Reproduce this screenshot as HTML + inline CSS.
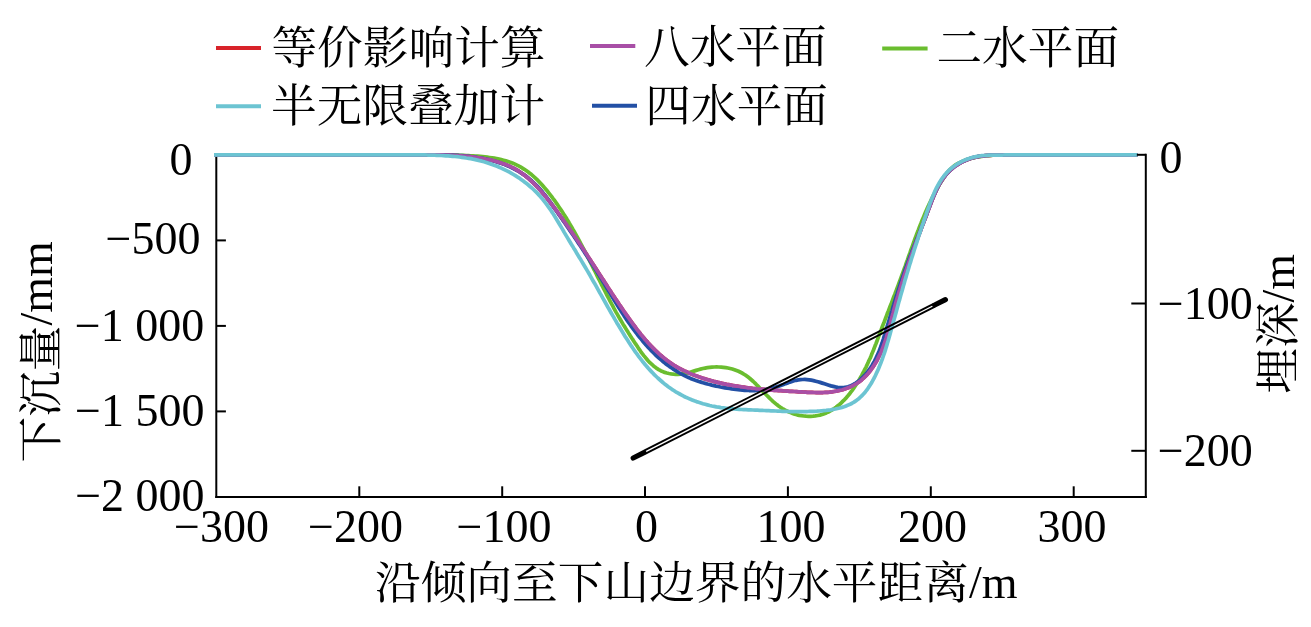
<!DOCTYPE html>
<html lang="zh"><head><meta charset="utf-8"><title>chart</title>
<style>
html,body{margin:0;padding:0;background:#fff;}
svg{display:block;}
.lat{font-family:"Liberation Serif","Noto Serif CJK SC",serif;font-size:46px;fill:#000;}
.cjk{font-family:"Liberation Serif","Noto Serif CJK SC",serif;font-size:45.7px;fill:#000;font-weight:400;}
.ax line{stroke:#000;stroke-width:2.0;}
.cv path{fill:none;stroke-width:3.75;stroke-linejoin:round;stroke-linecap:butt;}
</style></head><body>
<svg width="1311" height="627" viewBox="0 0 1311 627">
<rect width="1311" height="627" fill="#fff"/>
<!-- legend -->
<g stroke-width="4" fill="none">
<line x1="216" y1="48" x2="261" y2="48" stroke="#d8232a"/>
<line x1="590" y1="46" x2="635.3" y2="46" stroke="#a84fa6"/>
<line x1="882.2" y1="48.5" x2="927.6" y2="48.5" stroke="#6abd2f"/>
<line x1="216" y1="106.3" x2="261" y2="106.3" stroke="#6cc4d2"/>
<line x1="592" y1="105.8" x2="637" y2="105.8" stroke="#2350a5"/>
</g>
<g class="cjk">
<text x="271.4" y="63.5">等价影响计算</text>
<text x="644" y="63.3">八水平面</text>
<text x="936.4" y="63.5">二水平面</text>
<text x="271" y="121.6">半无限叠加计</text>
<text x="645.3" y="122">四水平面</text>
</g>
<!-- left/bottom axes -->
<g class="ax">
<line x1="216.3" y1="154" x2="216.3" y2="497.9"/>
<line x1="215.3" y1="496.9" x2="1146.8" y2="496.9"/>
<line x1="359.3" y1="496.9" x2="359.3" y2="486.3"/>
<line x1="502.2" y1="496.9" x2="502.2" y2="486.3"/>
<line x1="645.0" y1="496.9" x2="645.0" y2="486.3"/>
<line x1="787.9" y1="496.9" x2="787.9" y2="486.3"/>
<line x1="930.8" y1="496.9" x2="930.8" y2="486.3"/>
<line x1="1073.7" y1="496.9" x2="1073.7" y2="486.3"/>
<line x1="216.3" y1="240.4" x2="225.9" y2="240.4"/>
<line x1="216.3" y1="325.9" x2="225.9" y2="325.9"/>
<line x1="216.3" y1="411.4" x2="225.9" y2="411.4"/>
</g>
<!-- curves -->
<g class="cv">
<path stroke="#d8232a" stroke-width="2.2" d="M214,154.90 L400.0,154.90 L402.3,154.9 L404.6,154.9 L406.9,154.9 L409.2,154.9 L411.4,154.9 L413.6,154.9 L415.9,154.9 L418.1,154.9 L420.3,154.9 L422.4,154.9 L424.6,154.9 L426.8,154.9 L428.9,154.9 L431.1,154.9 L433.2,154.9 L435.4,154.9 L437.5,154.9 L439.7,154.9 L441.8,154.9 L444.0,155.0 L446.1,155.0 L448.3,155.1 L450.4,155.2 L452.6,155.3 L454.7,155.4 L456.9,155.5 L459.1,155.7 L461.3,155.8 L463.5,156.0 L465.7,156.2 L467.9,156.4 L470.2,156.6 L472.4,156.9 L474.7,157.2 L476.9,157.5 L479.2,157.8 L481.4,158.1 L483.6,158.5 L485.9,159.0 L488.1,159.4 L490.3,159.9 L492.5,160.4 L494.7,161.0 L496.8,161.6 L499.0,162.2 L501.1,162.9 L503.2,163.7 L505.3,164.4 L507.3,165.3 L509.4,166.1 L511.3,167.1 L513.3,168.0 L515.2,169.1 L517.1,170.2 L518.9,171.3 L520.7,172.5 L522.5,173.7 L524.2,175.0 L525.9,176.3 L527.6,177.7 L529.2,179.1 L530.8,180.6 L532.4,182.0 L534.0,183.6 L535.5,185.1 L537.0,186.7 L538.5,188.3 L540.0,189.9 L541.4,191.6 L542.8,193.3 L544.3,195.0 L545.7,196.7 L547.0,198.4 L548.4,200.1 L549.8,201.9 L551.1,203.7 L552.5,205.4 L553.8,207.2 L555.2,209.0 L556.5,210.7 L557.8,212.5 L559.1,214.3 L560.4,216.1 L561.7,217.9 L563.0,219.7 L564.3,221.5 L565.6,223.3 L566.8,225.1 L568.1,226.9 L569.4,228.7 L570.6,230.5 L571.9,232.4 L573.1,234.2 L574.4,236.0 L575.6,237.8 L576.9,239.7 L578.1,241.5 L579.3,243.3 L580.5,245.1 L581.8,247.0 L583.0,248.8 L584.2,250.7 L585.4,252.5 L586.6,254.3 L587.8,256.2 L589.0,258.0 L590.2,259.8 L591.4,261.7 L592.6,263.5 L593.8,265.4 L595.0,267.2 L596.2,269.1 L597.3,270.9 L598.5,272.7 L599.7,274.6 L600.9,276.4 L602.1,278.3 L603.3,280.1 L604.5,281.9 L605.7,283.8 L606.8,285.6 L608.0,287.5 L609.2,289.3 L610.4,291.1 L611.6,293.0 L612.8,294.8 L614.0,296.6 L615.3,298.5 L616.5,300.3 L617.7,302.1 L618.9,304.0 L620.2,305.8 L621.4,307.6 L622.7,309.5 L623.9,311.3 L625.2,313.1 L626.4,314.9 L627.7,316.7 L629.0,318.5 L630.3,320.4 L631.6,322.2 L632.9,324.0 L634.2,325.7 L635.6,327.5 L636.9,329.3 L638.3,331.1 L639.7,332.8 L641.0,334.6 L642.4,336.3 L643.9,338.0 L645.3,339.7 L646.8,341.3 L648.2,343.0 L649.7,344.6 L651.2,346.2 L652.8,347.8 L654.3,349.4 L655.9,350.9 L657.5,352.4 L659.1,353.9 L660.7,355.3 L662.4,356.7 L664.1,358.1 L665.8,359.5 L667.5,360.8 L669.3,362.1 L671.1,363.3 L672.9,364.5 L674.7,365.7 L676.6,366.8 L678.5,367.9 L680.5,368.9 L682.4,369.9 L684.4,370.9 L686.4,371.8 L688.4,372.7 L690.4,373.6 L692.5,374.5 L694.6,375.3 L696.6,376.0 L698.7,376.8 L700.8,377.5 L702.9,378.2 L705.1,378.9 L707.2,379.5 L709.3,380.1 L711.5,380.7 L713.6,381.3 L715.8,381.8 L717.9,382.4 L720.0,382.9 L722.2,383.4 L724.3,383.8 L726.5,384.3 L728.6,384.7 L730.8,385.1 L733.0,385.5 L735.1,385.9 L737.3,386.2 L739.5,386.5 L741.6,386.9 L743.8,387.2 L746.0,387.5 L748.1,387.8 L750.3,388.0 L752.5,388.3 L754.7,388.5 L756.8,388.8 L759.0,389.0 L761.2,389.2 L763.4,389.4 L765.6,389.6 L767.8,389.8 L770.0,389.9 L772.2,390.1 L774.4,390.3 L776.6,390.4 L778.8,390.6 L781.0,390.7 L783.2,390.9 L785.4,391.0 L787.6,391.1 L789.8,391.3 L792.0,391.4 L794.3,391.5 L796.5,391.6 L798.7,391.8 L800.9,391.9 L803.2,392.0 L805.4,392.1 L807.6,392.3 L809.8,392.4 L812.1,392.4 L814.3,392.5 L816.5,392.6 L818.7,392.6 L820.9,392.5 L823.2,392.5 L825.4,392.4 L827.5,392.3 L829.7,392.1 L831.9,391.8 L834.1,391.5 L836.2,391.2 L838.4,390.7 L840.5,390.2 L842.6,389.7 L844.7,389.0 L846.8,388.3 L848.8,387.5 L850.8,386.6 L852.8,385.7 L854.7,384.7 L856.6,383.5 L858.4,382.3 L860.1,381.1 L861.8,379.7 L863.5,378.2 L865.0,376.7 L866.5,375.1 L868.0,373.5 L869.4,371.8 L870.8,370.0 L872.1,368.2 L873.3,366.4 L874.5,364.5 L875.7,362.6 L876.8,360.7 L877.8,358.7 L878.8,356.7 L879.8,354.7 L880.7,352.7 L881.6,350.7 L882.4,348.6 L883.2,346.6 L884.0,344.5 L884.7,342.5 L885.4,340.4 L886.1,338.3 L886.7,336.2 L887.4,334.1 L888.0,332.0 L888.6,329.9 L889.2,327.8 L889.7,325.6 L890.3,323.5 L890.8,321.4 L891.4,319.3 L892.0,317.1 L892.5,315.0 L893.1,312.9 L893.6,310.7 L894.2,308.6 L894.8,306.5 L895.4,304.3 L896.0,302.2 L896.6,300.1 L897.2,298.0 L897.9,295.8 L898.5,293.7 L899.1,291.6 L899.8,289.5 L900.4,287.4 L901.1,285.3 L901.8,283.1 L902.5,281.0 L903.1,278.9 L903.8,276.8 L904.5,274.7 L905.2,272.7 L905.9,270.6 L906.6,268.5 L907.4,266.4 L908.1,264.3 L908.8,262.2 L909.6,260.2 L910.3,258.1 L911.0,256.0 L911.8,254.0 L912.5,251.9 L913.3,249.9 L914.0,247.8 L914.8,245.8 L915.5,243.7 L916.3,241.7 L917.1,239.7 L917.9,237.6 L918.6,235.6 L919.4,233.5 L920.2,231.5 L921.0,229.4 L921.7,227.4 L922.5,225.3 L923.3,223.3 L924.1,221.2 L924.9,219.1 L925.7,217.1 L926.5,215.0 L927.2,212.9 L928.0,210.8 L928.8,208.7 L929.6,206.6 L930.4,204.5 L931.2,202.4 L932.0,200.3 L932.9,198.2 L933.7,196.1 L934.6,194.0 L935.5,192.0 L936.4,190.0 L937.4,188.0 L938.4,186.0 L939.5,184.1 L940.6,182.2 L941.8,180.3 L943.0,178.6 L944.3,176.8 L945.6,175.1 L947.0,173.5 L948.5,171.9 L950.0,170.4 L951.6,169.0 L953.3,167.6 L955.0,166.3 L956.8,165.1 L958.6,163.9 L960.5,162.8 L962.4,161.8 L964.4,160.9 L966.4,160.0 L968.4,159.2 L970.5,158.5 L972.6,157.9 L974.7,157.3 L976.9,156.9 L979.0,156.4 L981.2,156.1 L983.4,155.8 L985.7,155.6 L987.9,155.4 L990.1,155.3 L992.4,155.2 L994.6,155.1 L996.9,155.0 L999.2,155.0 L1001.4,155.0 L1003.7,154.9 L1006.0,154.9 L1008.2,154.9 L1010.5,154.9 L1012.7,154.9 L1014.9,154.9 L1017.1,154.9 L1019.3,154.9 L1021.5,154.9 L1023.7,154.9 L1025.8,154.9 L1027.9,154.9 L1030.0,154.9 L1137.5,154.90"/>
<path stroke="#6abd2f" d="M214,154.90 L400.0,154.90 L402.6,154.9 L405.2,154.9 L407.7,154.9 L410.2,154.9 L412.6,154.9 L415.0,154.9 L417.4,154.9 L419.7,154.9 L422.0,154.9 L424.3,154.9 L426.5,154.9 L428.8,154.9 L431.0,154.9 L433.2,154.9 L435.3,154.9 L437.5,154.9 L439.7,154.9 L441.8,154.9 L444.0,154.9 L446.2,154.9 L448.3,154.9 L450.5,154.9 L452.7,155.0 L454.8,155.1 L457.0,155.2 L459.3,155.3 L461.5,155.3 L463.8,155.4 L466.1,155.6 L468.4,155.7 L470.7,155.8 L473.0,155.9 L475.4,156.1 L477.8,156.2 L480.1,156.4 L482.5,156.6 L484.9,156.9 L487.2,157.2 L489.6,157.5 L492.0,157.8 L494.3,158.2 L496.6,158.6 L499.0,159.1 L501.2,159.6 L503.5,160.2 L505.8,160.8 L508.0,161.5 L510.1,162.2 L512.3,163.0 L514.4,163.9 L516.4,164.9 L518.5,165.9 L520.4,166.9 L522.4,168.1 L524.3,169.3 L526.1,170.5 L527.9,171.8 L529.7,173.2 L531.5,174.6 L533.2,176.1 L534.9,177.6 L536.5,179.1 L538.1,180.7 L539.7,182.4 L541.3,184.0 L542.8,185.7 L544.3,187.5 L545.8,189.2 L547.3,191.0 L548.7,192.8 L550.1,194.6 L551.5,196.4 L552.9,198.3 L554.3,200.1 L555.6,202.0 L556.9,203.9 L558.2,205.8 L559.5,207.7 L560.8,209.6 L562.1,211.5 L563.3,213.4 L564.5,215.4 L565.8,217.3 L567.0,219.3 L568.2,221.2 L569.3,223.2 L570.5,225.2 L571.7,227.2 L572.8,229.2 L574.0,231.2 L575.1,233.2 L576.2,235.2 L577.3,237.2 L578.4,239.2 L579.5,241.2 L580.6,243.3 L581.7,245.3 L582.7,247.3 L583.8,249.4 L584.9,251.4 L585.9,253.5 L587.0,255.5 L588.0,257.6 L589.1,259.6 L590.1,261.7 L591.1,263.7 L592.2,265.8 L593.2,267.8 L594.2,269.9 L595.3,271.9 L596.3,274.0 L597.3,276.1 L598.3,278.1 L599.4,280.2 L600.4,282.2 L601.4,284.3 L602.5,286.3 L603.5,288.4 L604.6,290.4 L605.6,292.4 L606.6,294.5 L607.7,296.5 L608.8,298.5 L609.8,300.6 L610.9,302.6 L612.0,304.6 L613.1,306.6 L614.1,308.6 L615.2,310.6 L616.3,312.6 L617.5,314.6 L618.6,316.6 L619.7,318.5 L620.9,320.5 L622.0,322.4 L623.2,324.4 L624.4,326.3 L625.6,328.3 L626.8,330.2 L628.0,332.1 L629.2,334.1 L630.4,336.0 L631.7,338.0 L633.0,339.9 L634.3,341.9 L635.6,343.9 L636.9,345.8 L638.2,347.8 L639.6,349.8 L640.9,351.8 L642.3,353.7 L643.8,355.6 L645.3,357.4 L646.8,359.2 L648.3,361.0 L649.9,362.7 L651.6,364.2 L653.3,365.7 L655.0,367.1 L656.8,368.4 L658.7,369.6 L660.7,370.7 L662.7,371.6 L664.7,372.4 L666.9,373.0 L669.0,373.5 L671.2,373.9 L673.5,374.2 L675.7,374.3 L678.0,374.3 L680.3,374.2 L682.6,373.9 L684.9,373.6 L687.1,373.1 L689.4,372.5 L691.6,371.8 L693.8,371.1 L696.1,370.4 L698.3,369.7 L700.5,369.1 L702.8,368.5 L705.1,368.1 L707.4,367.7 L709.7,367.4 L712.0,367.1 L714.3,367.0 L716.6,366.9 L718.9,367.0 L721.2,367.1 L723.4,367.3 L725.7,367.6 L727.9,368.0 L730.1,368.5 L732.3,369.0 L734.4,369.7 L736.5,370.5 L738.5,371.3 L740.5,372.3 L742.5,373.3 L744.4,374.5 L746.3,375.7 L748.1,377.1 L749.9,378.5 L751.6,380.0 L753.3,381.5 L755.0,383.1 L756.6,384.8 L758.3,386.4 L759.9,388.2 L761.5,389.9 L763.2,391.6 L764.8,393.3 L766.4,395.0 L768.1,396.7 L769.8,398.4 L771.5,400.0 L773.2,401.6 L775.0,403.1 L776.8,404.6 L778.6,406.0 L780.5,407.3 L782.4,408.5 L784.4,409.7 L786.4,410.8 L788.5,411.7 L790.6,412.6 L792.7,413.4 L794.8,414.2 L797.0,414.8 L799.3,415.3 L801.5,415.7 L803.8,416.0 L806.1,416.2 L808.5,416.3 L810.8,416.3 L813.1,416.2 L815.4,415.9 L817.7,415.5 L819.9,415.1 L822.1,414.5 L824.2,413.7 L826.3,412.9 L828.3,412.0 L830.3,410.9 L832.3,409.8 L834.2,408.5 L836.0,407.2 L837.8,405.8 L839.6,404.4 L841.3,402.8 L842.9,401.2 L844.6,399.6 L846.1,397.9 L847.7,396.1 L849.2,394.3 L850.6,392.4 L852.0,390.6 L853.4,388.7 L854.7,386.8 L856.0,384.8 L857.3,382.9 L858.5,380.9 L859.7,378.9 L860.8,376.9 L862.0,374.9 L863.0,372.9 L864.1,370.9 L865.1,368.8 L866.2,366.8 L867.1,364.7 L868.1,362.6 L869.0,360.5 L870.0,358.5 L870.9,356.4 L871.7,354.3 L872.6,352.1 L873.5,350.0 L874.3,347.9 L875.1,345.8 L876.0,343.6 L876.8,341.5 L877.6,339.4 L878.4,337.2 L879.2,335.1 L880.0,332.9 L880.8,330.8 L881.6,328.6 L882.4,326.5 L883.2,324.4 L884.1,322.2 L884.9,320.1 L885.7,317.9 L886.5,315.8 L887.3,313.6 L888.2,311.5 L889.0,309.4 L889.8,307.2 L890.6,305.1 L891.5,302.9 L892.3,300.8 L893.1,298.7 L893.9,296.5 L894.8,294.4 L895.6,292.2 L896.4,290.1 L897.2,287.9 L898.0,285.8 L898.8,283.6 L899.6,281.5 L900.5,279.3 L901.2,277.2 L902.0,275.0 L902.8,272.9 L903.6,270.7 L904.4,268.5 L905.2,266.4 L905.9,264.2 L906.7,262.0 L907.5,259.9 L908.2,257.7 L909.0,255.5 L909.8,253.4 L910.5,251.2 L911.3,249.0 L912.1,246.9 L912.9,244.7 L913.7,242.5 L914.4,240.4 L915.2,238.2 L916.0,236.1 L916.8,233.9 L917.6,231.8 L918.5,229.6 L919.3,227.5 L920.1,225.4 L921.0,223.2 L921.8,221.1 L922.7,219.0 L923.6,216.9 L924.5,214.7 L925.4,212.6 L926.3,210.5 L927.2,208.4 L928.2,206.4 L929.1,204.3 L930.1,202.2 L931.1,200.1 L932.1,198.1 L933.1,196.0 L934.2,194.0 L935.3,192.0 L936.4,189.9 L937.5,187.9 L938.6,185.9 L939.8,183.9 L941.0,181.9 L942.2,180.0 L943.4,178.0 L944.7,176.1 L946.0,174.3 L947.4,172.5 L948.9,170.7 L950.4,169.1 L952.1,167.6 L953.8,166.2 L955.6,164.8 L957.6,163.7 L959.6,162.6 L961.7,161.6 L963.8,160.7 L966.0,159.9 L968.2,159.2 L970.4,158.5 L972.7,158.0 L975.0,157.4 L977.2,157.0 L979.5,156.6 L981.8,156.3 L984.1,156.0 L986.4,155.7 L988.7,155.6 L991.0,155.4 L993.3,155.2 L995.6,155.1 L997.9,155.0 L1000.2,155.0 L1002.5,154.9 L1004.8,154.9 L1007.1,154.9 L1009.4,154.9 L1011.7,154.9 L1014.0,154.9 L1016.3,154.9 L1018.6,154.9 L1020.9,154.9 L1023.2,154.9 L1025.4,154.9 L1027.7,154.9 L1030.0,154.9 L1137.5,154.90"/>
<path stroke="#2350a5" d="M214,154.90 L400.0,154.90 L402.3,154.9 L404.5,154.9 L406.8,154.9 L409.0,154.9 L411.2,154.9 L413.5,154.9 L415.7,154.9 L417.9,154.9 L420.1,154.9 L422.3,154.9 L424.5,154.9 L426.7,154.9 L428.9,154.9 L431.1,154.9 L433.3,154.9 L435.5,154.9 L437.7,154.9 L439.9,154.9 L442.0,154.9 L444.2,154.9 L446.4,155.0 L448.6,155.0 L450.8,155.1 L453.0,155.2 L455.2,155.3 L457.4,155.4 L459.6,155.6 L461.8,155.7 L464.0,155.9 L466.2,156.1 L468.4,156.3 L470.7,156.6 L472.9,156.8 L475.1,157.1 L477.3,157.5 L479.5,157.8 L481.7,158.2 L483.9,158.7 L486.1,159.1 L488.3,159.6 L490.5,160.1 L492.7,160.7 L494.8,161.3 L497.0,161.9 L499.1,162.6 L501.2,163.3 L503.3,164.1 L505.3,164.8 L507.4,165.7 L509.4,166.6 L511.4,167.5 L513.4,168.5 L515.3,169.5 L517.3,170.6 L519.2,171.7 L521.0,172.9 L522.9,174.1 L524.7,175.3 L526.4,176.6 L528.2,178.0 L529.9,179.4 L531.6,180.8 L533.2,182.3 L534.8,183.8 L536.4,185.3 L537.9,186.9 L539.4,188.5 L540.9,190.2 L542.3,191.8 L543.7,193.6 L545.1,195.3 L546.5,197.1 L547.8,198.8 L549.1,200.6 L550.4,202.4 L551.7,204.2 L553.0,206.1 L554.2,207.9 L555.5,209.7 L556.8,211.5 L558.1,213.3 L559.3,215.2 L560.6,217.0 L561.9,218.8 L563.1,220.6 L564.4,222.4 L565.7,224.3 L566.9,226.1 L568.2,227.9 L569.4,229.8 L570.7,231.6 L571.9,233.4 L573.2,235.2 L574.4,237.1 L575.7,238.9 L576.9,240.8 L578.1,242.6 L579.3,244.4 L580.6,246.3 L581.8,248.1 L583.0,250.0 L584.2,251.8 L585.4,253.7 L586.6,255.5 L587.9,257.4 L589.1,259.2 L590.2,261.1 L591.4,262.9 L592.6,264.8 L593.8,266.7 L595.0,268.5 L596.2,270.4 L597.3,272.3 L598.5,274.2 L599.7,276.0 L600.8,277.9 L602.0,279.8 L603.1,281.7 L604.3,283.6 L605.4,285.5 L606.5,287.4 L607.7,289.3 L608.8,291.2 L610.0,293.1 L611.1,294.9 L612.2,296.8 L613.4,298.7 L614.5,300.6 L615.7,302.5 L616.9,304.4 L618.0,306.3 L619.2,308.1 L620.4,310.0 L621.6,311.9 L622.8,313.7 L624.0,315.6 L625.2,317.4 L626.4,319.3 L627.7,321.1 L628.9,322.9 L630.2,324.7 L631.5,326.6 L632.8,328.4 L634.1,330.2 L635.4,331.9 L636.8,333.7 L638.2,335.5 L639.6,337.2 L641.0,338.9 L642.4,340.7 L643.8,342.4 L645.3,344.1 L646.8,345.7 L648.3,347.4 L649.8,349.0 L651.3,350.6 L652.9,352.2 L654.4,353.7 L656.0,355.3 L657.6,356.8 L659.3,358.3 L660.9,359.7 L662.6,361.2 L664.3,362.6 L666.0,363.9 L667.8,365.3 L669.6,366.6 L671.4,367.8 L673.2,369.1 L675.0,370.2 L676.9,371.4 L678.7,372.5 L680.6,373.6 L682.6,374.6 L684.5,375.6 L686.5,376.6 L688.5,377.5 L690.5,378.4 L692.6,379.2 L694.7,380.0 L696.7,380.7 L698.9,381.5 L701.0,382.1 L703.1,382.8 L705.3,383.4 L707.4,384.0 L709.6,384.5 L711.8,385.1 L714.0,385.6 L716.1,386.1 L718.3,386.5 L720.5,387.0 L722.7,387.4 L725.0,387.8 L727.2,388.2 L729.4,388.5 L731.6,388.9 L733.8,389.2 L735.9,389.5 L738.1,389.7 L740.3,390.0 L742.5,390.1 L744.7,390.3 L746.9,390.4 L749.1,390.5 L751.3,390.5 L753.4,390.5 L755.6,390.5 L757.8,390.4 L759.9,390.2 L762.1,390.0 L764.3,389.7 L766.4,389.4 L768.6,389.0 L770.7,388.5 L772.8,388.0 L775.0,387.4 L777.1,386.7 L779.2,386.0 L781.3,385.2 L783.5,384.4 L785.6,383.6 L787.7,382.9 L789.8,382.1 L792.0,381.4 L794.1,380.8 L796.2,380.3 L798.4,379.9 L800.5,379.6 L802.7,379.5 L804.8,379.4 L807.0,379.6 L809.2,379.8 L811.3,380.2 L813.5,380.6 L815.7,381.2 L817.9,381.8 L820.1,382.4 L822.3,383.1 L824.5,383.8 L826.7,384.5 L828.9,385.2 L831.0,385.9 L833.2,386.4 L835.4,386.9 L837.6,387.3 L839.7,387.5 L841.9,387.6 L844.0,387.5 L846.0,387.2 L848.1,386.8 L850.1,386.1 L852.0,385.2 L853.9,384.2 L855.8,383.1 L857.6,381.9 L859.4,380.5 L861.0,379.0 L862.7,377.5 L864.2,375.8 L865.7,374.2 L867.2,372.4 L868.5,370.7 L869.8,368.9 L871.0,367.1 L872.2,365.2 L873.3,363.3 L874.4,361.4 L875.4,359.4 L876.3,357.4 L877.3,355.4 L878.1,353.4 L879.0,351.4 L879.8,349.3 L880.6,347.2 L881.3,345.1 L882.1,343.0 L882.8,340.9 L883.5,338.8 L884.1,336.6 L884.8,334.5 L885.4,332.4 L886.1,330.2 L886.7,328.1 L887.4,325.9 L888.0,323.8 L888.7,321.7 L889.3,319.5 L889.9,317.4 L890.6,315.3 L891.2,313.1 L891.9,311.0 L892.5,308.9 L893.1,306.8 L893.8,304.6 L894.4,302.5 L895.1,300.4 L895.7,298.3 L896.4,296.2 L897.1,294.1 L897.7,292.0 L898.4,289.9 L899.1,287.8 L899.8,285.7 L900.4,283.6 L901.1,281.5 L901.8,279.4 L902.5,277.3 L903.3,275.2 L904.0,273.1 L904.7,271.1 L905.4,269.0 L906.2,266.9 L906.9,264.9 L907.7,262.8 L908.5,260.8 L909.2,258.7 L910.0,256.7 L910.8,254.6 L911.6,252.6 L912.4,250.5 L913.2,248.5 L914.0,246.4 L914.8,244.4 L915.6,242.3 L916.4,240.3 L917.2,238.2 L918.1,236.2 L918.9,234.1 L919.7,232.1 L920.5,230.0 L921.3,228.0 L922.1,225.9 L923.0,223.8 L923.8,221.7 L924.6,219.7 L925.4,217.6 L926.2,215.5 L927.0,213.4 L927.8,211.3 L928.6,209.2 L929.4,207.0 L930.2,204.9 L931.0,202.8 L931.8,200.7 L932.6,198.6 L933.5,196.5 L934.4,194.4 L935.3,192.4 L936.2,190.4 L937.2,188.4 L938.2,186.4 L939.2,184.5 L940.3,182.6 L941.5,180.8 L942.7,178.9 L943.9,177.2 L945.3,175.5 L946.7,173.8 L948.1,172.3 L949.7,170.7 L951.3,169.3 L953.0,167.9 L954.7,166.5 L956.5,165.3 L958.3,164.1 L960.2,163.0 L962.2,161.9 L964.2,161.0 L966.2,160.1 L968.2,159.3 L970.3,158.5 L972.4,157.9 L974.6,157.3 L976.7,156.8 L978.9,156.4 L981.1,156.1 L983.3,155.8 L985.5,155.5 L987.8,155.4 L990.0,155.2 L992.2,155.2 L994.5,155.1 L996.8,155.0 L999.0,155.0 L1001.3,155.0 L1003.6,154.9 L1005.8,154.9 L1008.1,154.9 L1010.3,154.9 L1012.6,154.9 L1014.8,154.9 L1017.0,154.9 L1019.2,154.9 L1021.4,154.9 L1023.6,154.9 L1025.7,154.9 L1027.9,154.9 L1030.0,154.9 L1137.5,154.90"/>
<path stroke="#a84fa6" d="M214,154.90 L400.0,154.90 L402.3,154.9 L404.6,154.9 L406.9,154.9 L409.2,154.9 L411.4,154.9 L413.6,154.9 L415.9,154.9 L418.1,154.9 L420.3,154.9 L422.4,154.9 L424.6,154.9 L426.8,154.9 L428.9,154.9 L431.1,154.9 L433.2,154.9 L435.4,154.9 L437.5,154.9 L439.7,154.9 L441.8,154.9 L444.0,155.0 L446.1,155.0 L448.3,155.1 L450.4,155.2 L452.6,155.3 L454.7,155.4 L456.9,155.5 L459.1,155.7 L461.3,155.8 L463.5,156.0 L465.7,156.2 L467.9,156.4 L470.2,156.6 L472.4,156.9 L474.7,157.2 L476.9,157.5 L479.2,157.8 L481.4,158.1 L483.6,158.5 L485.9,159.0 L488.1,159.4 L490.3,159.9 L492.5,160.4 L494.7,161.0 L496.8,161.6 L499.0,162.2 L501.1,162.9 L503.2,163.7 L505.3,164.4 L507.3,165.3 L509.4,166.1 L511.3,167.1 L513.3,168.0 L515.2,169.1 L517.1,170.2 L518.9,171.3 L520.7,172.5 L522.5,173.7 L524.2,175.0 L525.9,176.3 L527.6,177.7 L529.2,179.1 L530.8,180.6 L532.4,182.0 L534.0,183.6 L535.5,185.1 L537.0,186.7 L538.5,188.3 L540.0,189.9 L541.4,191.6 L542.8,193.3 L544.3,195.0 L545.7,196.7 L547.0,198.4 L548.4,200.1 L549.8,201.9 L551.1,203.7 L552.5,205.4 L553.8,207.2 L555.2,209.0 L556.5,210.7 L557.8,212.5 L559.1,214.3 L560.4,216.1 L561.7,217.9 L563.0,219.7 L564.3,221.5 L565.6,223.3 L566.8,225.1 L568.1,226.9 L569.4,228.7 L570.6,230.5 L571.9,232.4 L573.1,234.2 L574.4,236.0 L575.6,237.8 L576.9,239.7 L578.1,241.5 L579.3,243.3 L580.5,245.1 L581.8,247.0 L583.0,248.8 L584.2,250.7 L585.4,252.5 L586.6,254.3 L587.8,256.2 L589.0,258.0 L590.2,259.8 L591.4,261.7 L592.6,263.5 L593.8,265.4 L595.0,267.2 L596.2,269.1 L597.3,270.9 L598.5,272.7 L599.7,274.6 L600.9,276.4 L602.1,278.3 L603.3,280.1 L604.5,281.9 L605.7,283.8 L606.8,285.6 L608.0,287.5 L609.2,289.3 L610.4,291.1 L611.6,293.0 L612.8,294.8 L614.0,296.6 L615.3,298.5 L616.5,300.3 L617.7,302.1 L618.9,304.0 L620.2,305.8 L621.4,307.6 L622.7,309.5 L623.9,311.3 L625.2,313.1 L626.4,314.9 L627.7,316.7 L629.0,318.5 L630.3,320.4 L631.6,322.2 L632.9,324.0 L634.2,325.7 L635.6,327.5 L636.9,329.3 L638.3,331.1 L639.7,332.8 L641.0,334.6 L642.4,336.3 L643.9,338.0 L645.3,339.7 L646.8,341.3 L648.2,343.0 L649.7,344.6 L651.2,346.2 L652.8,347.8 L654.3,349.4 L655.9,350.9 L657.5,352.4 L659.1,353.9 L660.7,355.3 L662.4,356.7 L664.1,358.1 L665.8,359.5 L667.5,360.8 L669.3,362.1 L671.1,363.3 L672.9,364.5 L674.7,365.7 L676.6,366.8 L678.5,367.9 L680.5,368.9 L682.4,369.9 L684.4,370.9 L686.4,371.8 L688.4,372.7 L690.4,373.6 L692.5,374.5 L694.6,375.3 L696.6,376.0 L698.7,376.8 L700.8,377.5 L702.9,378.2 L705.1,378.9 L707.2,379.5 L709.3,380.1 L711.5,380.7 L713.6,381.3 L715.8,381.8 L717.9,382.4 L720.0,382.9 L722.2,383.4 L724.3,383.8 L726.5,384.3 L728.6,384.7 L730.8,385.1 L733.0,385.5 L735.1,385.9 L737.3,386.2 L739.5,386.5 L741.6,386.9 L743.8,387.2 L746.0,387.5 L748.1,387.8 L750.3,388.0 L752.5,388.3 L754.7,388.5 L756.8,388.8 L759.0,389.0 L761.2,389.2 L763.4,389.4 L765.6,389.6 L767.8,389.8 L770.0,389.9 L772.2,390.1 L774.4,390.3 L776.6,390.4 L778.8,390.6 L781.0,390.7 L783.2,390.9 L785.4,391.0 L787.6,391.1 L789.8,391.3 L792.0,391.4 L794.3,391.5 L796.5,391.6 L798.7,391.8 L800.9,391.9 L803.2,392.0 L805.4,392.1 L807.6,392.3 L809.8,392.4 L812.1,392.4 L814.3,392.5 L816.5,392.6 L818.7,392.6 L820.9,392.5 L823.2,392.5 L825.4,392.4 L827.5,392.3 L829.7,392.1 L831.9,391.8 L834.1,391.5 L836.2,391.2 L838.4,390.7 L840.5,390.2 L842.6,389.7 L844.7,389.0 L846.8,388.3 L848.8,387.5 L850.8,386.6 L852.8,385.7 L854.7,384.7 L856.6,383.5 L858.4,382.3 L860.1,381.1 L861.8,379.7 L863.5,378.2 L865.0,376.7 L866.5,375.1 L868.0,373.5 L869.4,371.8 L870.8,370.0 L872.1,368.2 L873.3,366.4 L874.5,364.5 L875.7,362.6 L876.8,360.7 L877.8,358.7 L878.8,356.7 L879.8,354.7 L880.7,352.7 L881.6,350.7 L882.4,348.6 L883.2,346.6 L884.0,344.5 L884.7,342.5 L885.4,340.4 L886.1,338.3 L886.7,336.2 L887.4,334.1 L888.0,332.0 L888.6,329.9 L889.2,327.8 L889.7,325.6 L890.3,323.5 L890.8,321.4 L891.4,319.3 L892.0,317.1 L892.5,315.0 L893.1,312.9 L893.6,310.7 L894.2,308.6 L894.8,306.5 L895.4,304.3 L896.0,302.2 L896.6,300.1 L897.2,298.0 L897.9,295.8 L898.5,293.7 L899.1,291.6 L899.8,289.5 L900.4,287.4 L901.1,285.3 L901.8,283.1 L902.5,281.0 L903.1,278.9 L903.8,276.8 L904.5,274.7 L905.2,272.7 L905.9,270.6 L906.6,268.5 L907.4,266.4 L908.1,264.3 L908.8,262.2 L909.6,260.2 L910.3,258.1 L911.0,256.0 L911.8,254.0 L912.5,251.9 L913.3,249.9 L914.0,247.8 L914.8,245.8 L915.5,243.7 L916.3,241.7 L917.1,239.7 L917.9,237.6 L918.6,235.6 L919.4,233.5 L920.2,231.5 L921.0,229.4 L921.7,227.4 L922.5,225.3 L923.3,223.3 L924.1,221.2 L924.9,219.1 L925.7,217.1 L926.5,215.0 L927.2,212.9 L928.0,210.8 L928.8,208.7 L929.6,206.6 L930.4,204.5 L931.2,202.4 L932.0,200.3 L932.9,198.2 L933.7,196.1 L934.6,194.0 L935.5,192.0 L936.4,190.0 L937.4,188.0 L938.4,186.0 L939.5,184.1 L940.6,182.2 L941.8,180.3 L943.0,178.6 L944.3,176.8 L945.6,175.1 L947.0,173.5 L948.5,171.9 L950.0,170.4 L951.6,169.0 L953.3,167.6 L955.0,166.3 L956.8,165.1 L958.6,163.9 L960.5,162.8 L962.4,161.8 L964.4,160.9 L966.4,160.0 L968.4,159.2 L970.5,158.5 L972.6,157.9 L974.7,157.3 L976.9,156.9 L979.0,156.4 L981.2,156.1 L983.4,155.8 L985.7,155.6 L987.9,155.4 L990.1,155.3 L992.4,155.2 L994.6,155.1 L996.9,155.0 L999.2,155.0 L1001.4,155.0 L1003.7,154.9 L1006.0,154.9 L1008.2,154.9 L1010.5,154.9 L1012.7,154.9 L1014.9,154.9 L1017.1,154.9 L1019.3,154.9 L1021.5,154.9 L1023.7,154.9 L1025.8,154.9 L1027.9,154.9 L1030.0,154.9 L1137.5,154.90"/>
<path stroke="#6cc4d2" d="M214,154.90 L400.0,154.90 L402.3,154.9 L404.5,154.9 L406.8,154.9 L409.1,154.9 L411.4,154.9 L413.7,154.9 L416.0,154.9 L418.3,154.9 L420.5,154.9 L422.8,154.9 L425.1,154.9 L427.4,155.0 L429.8,155.0 L432.1,155.1 L434.4,155.2 L436.7,155.3 L439.0,155.4 L441.3,155.5 L443.6,155.6 L445.9,155.8 L448.1,155.9 L450.4,156.1 L452.7,156.3 L455.0,156.5 L457.3,156.7 L459.6,157.0 L461.8,157.3 L464.1,157.6 L466.3,158.0 L468.6,158.3 L470.8,158.7 L473.1,159.2 L475.3,159.6 L477.5,160.1 L479.7,160.7 L481.9,161.2 L484.1,161.8 L486.3,162.5 L488.5,163.2 L490.6,163.9 L492.8,164.7 L494.9,165.5 L497.1,166.3 L499.2,167.2 L501.3,168.1 L503.3,169.1 L505.4,170.1 L507.5,171.1 L509.5,172.2 L511.5,173.3 L513.5,174.5 L515.4,175.7 L517.3,176.9 L519.3,178.1 L521.1,179.4 L523.0,180.8 L524.8,182.2 L526.6,183.6 L528.4,185.0 L530.1,186.5 L531.9,188.0 L533.5,189.5 L535.2,191.1 L536.8,192.7 L538.4,194.4 L539.9,196.1 L541.4,197.8 L542.9,199.5 L544.3,201.3 L545.7,203.1 L547.0,204.9 L548.4,206.8 L549.7,208.6 L551.0,210.5 L552.2,212.4 L553.5,214.3 L554.7,216.3 L555.9,218.2 L557.1,220.2 L558.3,222.2 L559.5,224.2 L560.6,226.1 L561.8,228.1 L563.0,230.1 L564.1,232.1 L565.3,234.1 L566.5,236.1 L567.7,238.1 L568.8,240.0 L570.0,242.0 L571.2,244.0 L572.4,245.9 L573.6,247.9 L574.8,249.8 L576.0,251.8 L577.1,253.8 L578.3,255.7 L579.5,257.7 L580.7,259.6 L581.9,261.6 L583.0,263.5 L584.2,265.5 L585.4,267.5 L586.5,269.4 L587.7,271.4 L588.8,273.3 L590.0,275.3 L591.1,277.3 L592.2,279.3 L593.3,281.2 L594.5,283.2 L595.6,285.2 L596.7,287.2 L597.8,289.1 L598.9,291.1 L600.0,293.1 L601.2,295.1 L602.3,297.1 L603.4,299.1 L604.5,301.0 L605.6,303.0 L606.7,305.0 L607.8,307.0 L609.0,309.0 L610.1,311.0 L611.2,313.0 L612.3,314.9 L613.5,316.9 L614.6,318.9 L615.8,320.9 L616.9,322.9 L618.1,324.8 L619.3,326.8 L620.5,328.8 L621.7,330.8 L622.9,332.7 L624.1,334.7 L625.3,336.7 L626.5,338.6 L627.8,340.6 L629.0,342.5 L630.3,344.4 L631.6,346.4 L632.9,348.3 L634.2,350.2 L635.5,352.1 L636.9,353.9 L638.2,355.8 L639.6,357.6 L641.0,359.4 L642.4,361.2 L643.9,363.0 L645.3,364.8 L646.8,366.5 L648.3,368.3 L649.8,369.9 L651.4,371.6 L653.0,373.3 L654.5,374.9 L656.2,376.5 L657.8,378.0 L659.5,379.5 L661.2,381.0 L662.9,382.5 L664.6,383.9 L666.4,385.3 L668.2,386.7 L670.1,388.0 L671.9,389.3 L673.8,390.5 L675.7,391.8 L677.7,392.9 L679.7,394.0 L681.7,395.1 L683.7,396.2 L685.8,397.2 L687.9,398.1 L690.0,399.1 L692.1,399.9 L694.3,400.8 L696.4,401.6 L698.6,402.3 L700.8,403.0 L703.0,403.7 L705.2,404.3 L707.4,404.9 L709.7,405.5 L711.9,406.0 L714.2,406.4 L716.4,406.9 L718.7,407.2 L720.9,407.6 L723.2,407.9 L725.5,408.2 L727.8,408.4 L730.0,408.6 L732.3,408.8 L734.6,409.0 L736.9,409.2 L739.2,409.3 L741.4,409.5 L743.7,409.6 L746.0,409.7 L748.3,409.8 L750.6,409.9 L752.9,410.0 L755.1,410.1 L757.4,410.2 L759.7,410.3 L762.0,410.4 L764.2,410.5 L766.5,410.6 L768.8,410.7 L771.0,410.8 L773.3,410.9 L775.6,411.0 L777.8,411.1 L780.1,411.2 L782.4,411.3 L784.7,411.3 L786.9,411.4 L789.2,411.5 L791.5,411.5 L793.8,411.5 L796.1,411.6 L798.4,411.6 L800.7,411.6 L803.0,411.6 L805.3,411.5 L807.6,411.5 L809.9,411.4 L812.2,411.4 L814.5,411.3 L816.9,411.2 L819.2,411.0 L821.5,410.8 L823.9,410.6 L826.2,410.4 L828.5,410.1 L830.8,409.8 L833.0,409.4 L835.3,409.0 L837.5,408.5 L839.7,408.0 L841.9,407.4 L844.0,406.7 L846.1,405.9 L848.1,405.1 L850.1,404.2 L852.1,403.2 L854.0,402.1 L855.8,400.9 L857.6,399.6 L859.3,398.2 L860.9,396.7 L862.5,395.1 L864.0,393.4 L865.5,391.7 L866.9,389.9 L868.2,388.0 L869.5,386.0 L870.8,384.0 L872.0,382.0 L873.1,379.9 L874.3,377.8 L875.3,375.7 L876.3,373.5 L877.3,371.4 L878.3,369.2 L879.2,367.1 L880.0,364.9 L880.9,362.8 L881.7,360.7 L882.5,358.5 L883.2,356.4 L884.0,354.2 L884.7,352.1 L885.4,349.9 L886.0,347.8 L886.7,345.7 L887.3,343.5 L888.0,341.3 L888.6,339.2 L889.2,337.0 L889.8,334.9 L890.4,332.7 L891.0,330.5 L891.6,328.3 L892.2,326.1 L892.8,323.9 L893.4,321.7 L894.0,319.5 L894.7,317.3 L895.3,315.1 L895.9,312.9 L896.5,310.7 L897.1,308.5 L897.7,306.2 L898.3,304.0 L898.9,301.8 L899.6,299.6 L900.2,297.3 L900.8,295.1 L901.4,292.9 L902.1,290.7 L902.7,288.5 L903.3,286.2 L904.0,284.0 L904.6,281.8 L905.2,279.6 L905.9,277.4 L906.5,275.2 L907.2,273.0 L907.8,270.9 L908.5,268.7 L909.1,266.5 L909.8,264.3 L910.5,262.2 L911.1,260.0 L911.8,257.8 L912.5,255.7 L913.2,253.5 L913.8,251.4 L914.5,249.2 L915.2,247.1 L915.9,244.9 L916.6,242.8 L917.3,240.6 L918.0,238.5 L918.7,236.3 L919.4,234.2 L920.2,232.0 L920.9,229.8 L921.6,227.7 L922.3,225.5 L923.1,223.3 L923.8,221.2 L924.6,219.0 L925.3,216.8 L926.1,214.6 L926.8,212.4 L927.6,210.2 L928.4,208.0 L929.2,205.8 L929.9,203.6 L930.8,201.4 L931.6,199.2 L932.5,197.0 L933.4,194.9 L934.3,192.7 L935.2,190.6 L936.2,188.5 L937.3,186.5 L938.4,184.5 L939.5,182.5 L940.7,180.6 L941.9,178.7 L943.3,176.9 L944.6,175.1 L946.1,173.4 L947.6,171.8 L949.2,170.2 L950.8,168.7 L952.6,167.3 L954.4,166.0 L956.2,164.7 L958.1,163.5 L960.1,162.4 L962.1,161.3 L964.1,160.4 L966.2,159.5 L968.3,158.7 L970.5,158.0 L972.7,157.4 L974.9,156.8 L977.1,156.4 L979.4,156.0 L981.7,155.7 L984.0,155.5 L986.3,155.3 L988.6,155.2 L990.9,155.1 L993.3,155.1 L995.6,155.0 L998.0,155.0 L1000.4,155.0 L1002.7,155.0 L1005.1,154.9 L1007.4,154.9 L1009.8,154.9 L1012.1,154.9 L1014.4,154.9 L1016.7,154.9 L1019.0,154.9 L1021.2,154.9 L1023.5,154.9 L1025.7,154.9 L1027.8,154.9 L1030.0,154.9 L1137.5,154.90"/>
</g>
<g class="ax">
<line x1="1145.8" y1="153.8" x2="1145.8" y2="497.9"/>
<line x1="1145.8" y1="154.8" x2="1136.8" y2="154.8"/>
<line x1="1145.8" y1="303.5" x2="1131.3" y2="303.5"/>
<line x1="1145.8" y1="450.8" x2="1131.3" y2="450.8"/>
</g>
<g>
<line x1="643.6" y1="450.9" x2="933.5" y2="303.8" stroke="#000" stroke-width="1.9"/>
<line x1="645.1" y1="453.8" x2="935.0" y2="306.7" stroke="#000" stroke-width="1.9"/>
<line x1="633.2" y1="458.0" x2="643.9" y2="452.6" stroke="#000" stroke-width="5.2" stroke-linecap="round"/>
<line x1="934.7" y1="305.0" x2="945.4" y2="299.6" stroke="#000" stroke-width="5.2" stroke-linecap="round"/>
</g>
<!-- tick labels -->
<g class="lat">
<text x="192.6" y="175" text-anchor="end">0</text>
<text x="200.5" y="253.6" text-anchor="end">−500</text>
<text x="204.2" y="340.5" text-anchor="end">−1 000</text>
<text x="204.4" y="426.3" text-anchor="end">−1 500</text>
<text x="204.6" y="511.3" text-anchor="end">−2 000</text>
<text x="221.5" y="541.5" text-anchor="middle">−300</text>
<text x="355.5" y="541.5" text-anchor="middle">−200</text>
<text x="504" y="541.5" text-anchor="middle">−100</text>
<text x="646.5" y="541.5" text-anchor="middle">0</text>
<text x="791" y="541.5" text-anchor="middle">100</text>
<text x="932.5" y="541.5" text-anchor="middle">200</text>
<text x="1072" y="541.5" text-anchor="middle">300</text>
<text x="1159.5" y="172.6">0</text>
<text x="1157.7" y="318.6">−100</text>
<text x="1157.7" y="466.2">−200</text>
</g>
<g class="cjk">
<text x="375" y="599">沿倾向至下山边界的水平距离<tspan class="lat" dy="-1.2">/m</tspan></text>
<text transform="translate(57,462.5) rotate(-90)">下沉量<tspan class="lat" dy="-4.6">/mm</tspan></text>
<text transform="translate(1294,393.8) rotate(-90)">埋深<tspan class="lat">/m</tspan></text>
</g>
</svg>
</body></html>
